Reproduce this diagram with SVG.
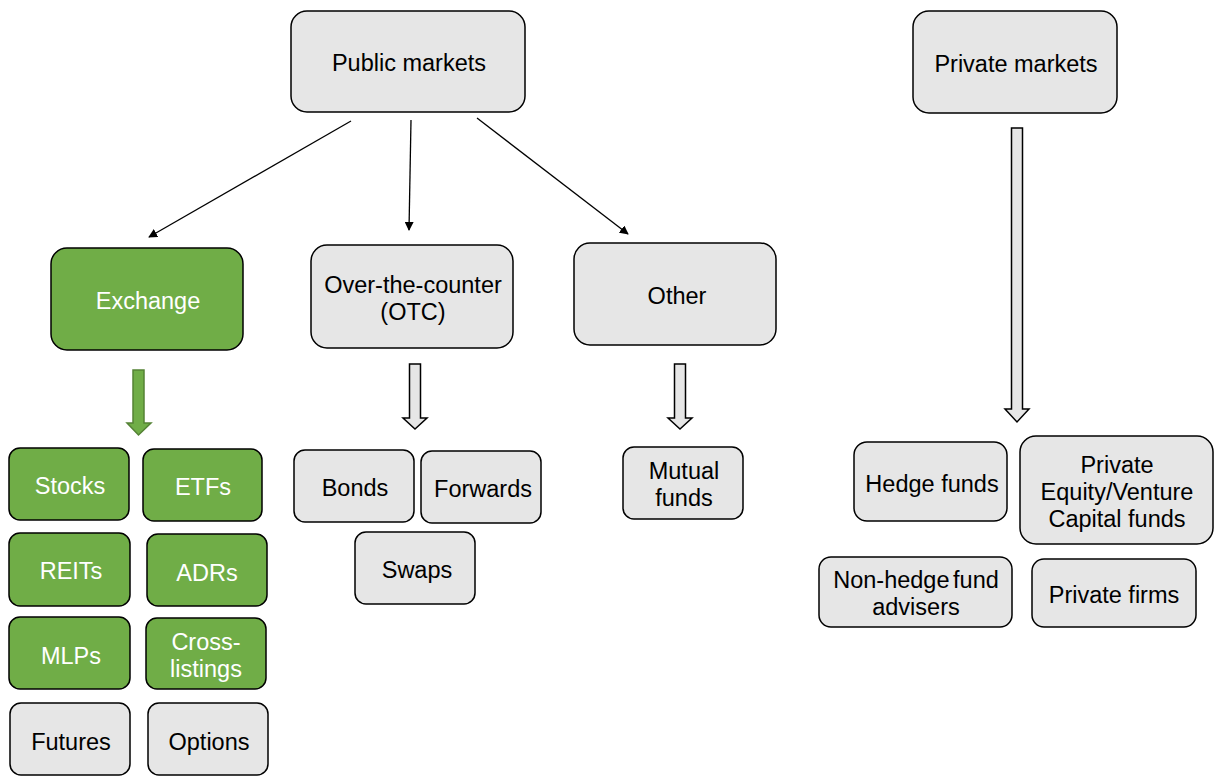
<svg xmlns="http://www.w3.org/2000/svg" width="1219" height="776" viewBox="0 0 1219 776">
<defs>
<style>
.g{fill:#e6e6e6;stroke:#000;stroke-width:1.5}
.gr{fill:#70ad47;stroke:#000;stroke-width:1.5}
text{font-family:"Liberation Sans",Arial,sans-serif;font-size:23.5px;text-anchor:middle;dominant-baseline:central}
.w{fill:#fff}
.k{fill:#000}
.ln{stroke:#000;stroke-width:1.3;fill:none;marker-end:url(#ah)}
.ba{fill:#e6e6e6;stroke:#000;stroke-width:1.5}
.ga{fill:#70ad47;stroke:#548235;stroke-width:1.5}
</style>
<marker id="ah" viewBox="0 0 10 10" refX="9" refY="5" markerWidth="9" markerHeight="9" markerUnits="userSpaceOnUse" orient="auto"><path d="M0,0 L10,5 L0,10 z" fill="#000"/></marker>
</defs>
<rect width="1219" height="776" fill="#fff"/>
<g id="connectors">
<line class="ln" x1="351" y1="121" x2="149" y2="237"/>
<line class="ln" x1="411" y1="120" x2="409" y2="230"/>
<line class="ln" x1="477" y1="118" x2="628" y2="234"/>
<path class="ga" d="M133,370 H144 V423 H151 L138.5,435 L127,423 H133 Z"/>
<path class="ba" d="M409.5,364 H420.5 V418 H427 L415,429 L403,418 H409.5 Z"/>
<path class="ba" d="M674.5,364 H685.5 V418 H692 L680,429 L668,418 H674.5 Z"/>
<path class="ba" d="M1011.5,128 H1022.5 V409 H1029 L1017,422 L1005,409 H1011.5 Z"/>
</g>
<g id="public"><rect class="g" x="291" y="11" width="234" height="101" rx="16"/><text class="k" x="409" y="63">Public markets</text></g>
<g id="private"><rect class="g" x="913" y="11" width="204" height="102" rx="16"/><text class="k" x="1016" y="64">Private markets</text></g>
<g id="exchange"><rect class="gr" x="51" y="248" width="192" height="102" rx="16"/><text class="w" x="148" y="301">Exchange</text></g>
<g id="otc"><rect class="g" x="311" y="245" width="202" height="103" rx="16"/><text class="k" x="413" y="285">Over-the-counter</text><text class="k" x="413" y="312">(OTC)</text></g>
<g id="other"><rect class="g" x="574" y="243" width="202" height="102" rx="16"/><text class="k" x="677" y="296">Other</text></g>
<g id="stocks"><rect class="gr" x="9" y="448" width="120" height="72" rx="11"/><text class="w" x="70" y="486">Stocks</text></g>
<g id="etfs"><rect class="gr" x="143" y="449" width="119" height="72" rx="11"/><text class="w" x="203" y="487">ETFs</text></g>
<g id="reits"><rect class="gr" x="9" y="533" width="121" height="73" rx="11"/><text class="w" x="71" y="571">REITs</text></g>
<g id="adrs"><rect class="gr" x="147" y="534" width="120" height="72" rx="11"/><text class="w" x="207" y="573">ADRs</text></g>
<g id="mlps"><rect class="gr" x="9" y="617" width="121" height="72" rx="11"/><text class="w" x="71" y="656">MLPs</text></g>
<g id="cross"><rect class="gr" x="146" y="618" width="120" height="71" rx="11"/><text class="w" x="206" y="642">Cross-</text><text class="w" x="206" y="669">listings</text></g>
<g id="futures"><rect class="g" x="10" y="703" width="120" height="72" rx="11"/><text class="k" x="71" y="742">Futures</text></g>
<g id="options"><rect class="g" x="148" y="703" width="120" height="72" rx="11"/><text class="k" x="209" y="742">Options</text></g>
<g id="bonds"><rect class="g" x="294" y="450" width="120" height="72" rx="11"/><text class="k" x="355" y="488">Bonds</text></g>
<g id="forwards"><rect class="g" x="421" y="451" width="120" height="72" rx="11"/><text class="k" x="483" y="489">Forwards</text></g>
<g id="swaps"><rect class="g" x="355" y="532" width="120" height="72" rx="11"/><text class="k" x="417" y="570">Swaps</text></g>
<g id="mutual"><rect class="g" x="623" y="447" width="120" height="72" rx="11"/><text class="k" x="684" y="471">Mutual</text><text class="k" x="684" y="498">funds</text></g>
<g id="hedge"><rect class="g" x="854" y="442" width="153" height="79" rx="13"/><text class="k" x="932" y="484">Hedge funds</text></g>
<g id="pevc"><rect class="g" x="1020" y="436" width="193" height="108" rx="16"/><text class="k" x="1117" y="465">Private</text><text class="k" x="1117" y="492">Equity/Venture</text><text class="k" x="1117" y="519">Capital funds</text></g>
<g id="nonhedge"><rect class="g" x="819" y="557" width="193" height="70" rx="12"/><text class="k" x="916" y="580" word-spacing="-3">Non-hedge fund</text><text class="k" x="916" y="607">advisers</text></g>
<g id="firms"><rect class="g" x="1032" y="559" width="164" height="68" rx="12"/><text class="k" x="1114" y="595">Private firms</text></g>
</svg>
